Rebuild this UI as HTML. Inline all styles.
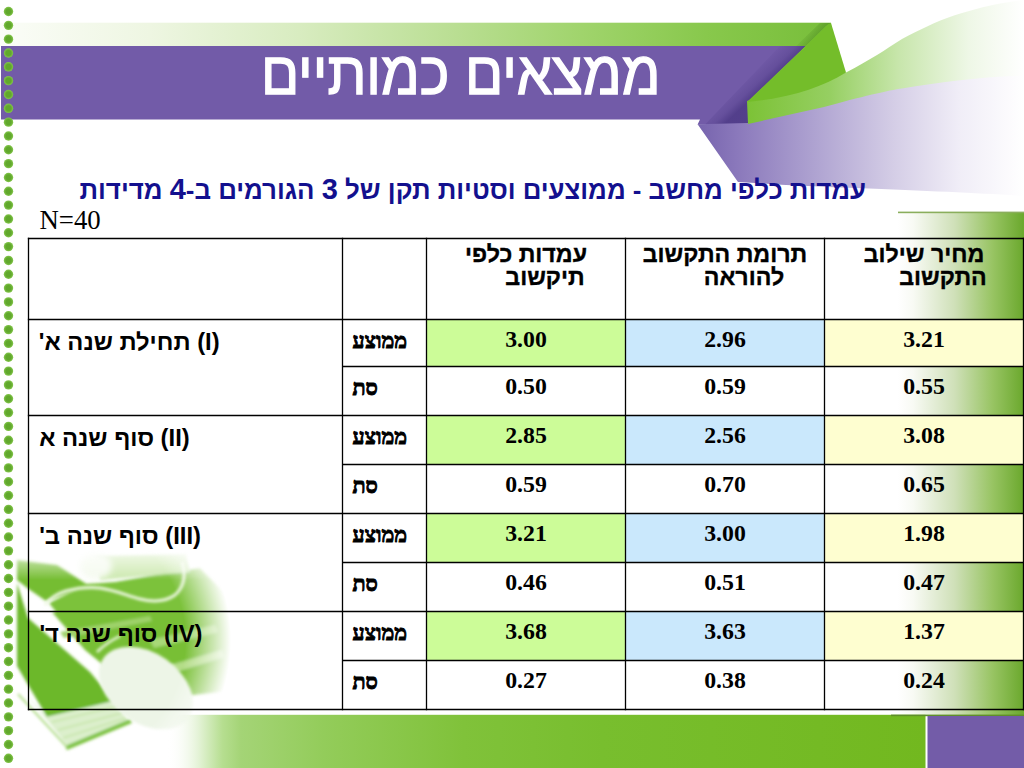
<!DOCTYPE html>
<html lang="he"><head><meta charset="utf-8">
<style>
html,body{margin:0;padding:0;}
body{width:1024px;height:768px;overflow:hidden;position:relative;background:#fff;font-family:"Liberation Sans",sans-serif;}
.abs{position:absolute;left:0;top:0;}
.t{position:absolute;white-space:nowrap;line-height:1;}
.title{color:#fff;font-size:56.4px;left:261px;top:42.5px;transform:scaleY(1.08);transform-origin:0 0;-webkit-text-stroke:1.3px #fff;}
.sub{color:#13108e;font-weight:bold;font-size:25.85px;left:79.5px;top:177.6px;}
.n40{font-family:"Liberation Serif",serif;font-size:26.8px;color:#000;left:39.5px;top:207px;}
.lab{font-weight:bold;font-size:23.8px;color:#000;margin-top:10.2px;}
.hd{font-weight:bold;font-size:23.2px;color:#000;text-align:center;-webkit-text-stroke:0.35px #000;}
.h1{top:243px;}
.h2{top:266px;}
.sm{font-family:"Liberation Serif",serif;font-weight:bold;font-size:21.5px;color:#000;left:352.5px;margin-top:11px;-webkit-text-stroke:0.9px #000;}
.num{font-family:"Liberation Serif",serif;font-weight:bold;font-size:23.8px;color:#000;text-align:center;margin-top:8.5px;}
.dg{font-size:29px;line-height:0;}

</style></head>
<body>
<svg class="abs" width="1024" height="768" viewBox="0 0 1024 768">
<defs>
  <linearGradient id="gTop" x1="0" y1="0" x2="831" y2="0" gradientUnits="userSpaceOnUse">
    <stop offset="0" stop-color="#fbfdf8"/>
    <stop offset="0.18" stop-color="#eef6e2"/>
    <stop offset="0.36" stop-color="#d8ecc0"/>
    <stop offset="0.55" stop-color="#b9de92"/>
    <stop offset="0.7" stop-color="#a0d46c"/>
    <stop offset="0.85" stop-color="#88c84c"/>
    <stop offset="1" stop-color="#78be3a"/>
  </linearGradient>
  <linearGradient id="gRight" x1="898" y1="0" x2="1024" y2="0" gradientUnits="userSpaceOnUse">
    <stop offset="0" stop-color="#ffffff"/>
    <stop offset="0.12" stop-color="#f8faf4"/>
    <stop offset="0.45" stop-color="#cfe0b8"/>
    <stop offset="0.75" stop-color="#98c463"/>
    <stop offset="1" stop-color="#6aa82c"/>
  </linearGradient>
  <linearGradient id="gBot" x1="0" y1="0" x2="927" y2="0" gradientUnits="userSpaceOnUse">
    <stop offset="0" stop-color="#ffffff" stop-opacity="0"/>
    <stop offset="0.18" stop-color="#ffffff" stop-opacity="0"/>
    <stop offset="0.215" stop-color="#e2f2d4"/>
    <stop offset="0.24" stop-color="#b6de90"/>
    <stop offset="0.26" stop-color="#a4d476"/>
    <stop offset="0.35" stop-color="#93cc5a"/>
    <stop offset="0.5" stop-color="#80c23a"/>
    <stop offset="0.65" stop-color="#78be2e"/>
    <stop offset="1" stop-color="#72b81f"/>
  </linearGradient>
  <linearGradient id="gPurpRib" x1="697" y1="0" x2="1024" y2="0" gradientUnits="userSpaceOnUse">
    <stop offset="0" stop-color="#7663ad"/>
    <stop offset="0.12" stop-color="#8a78bb"/>
    <stop offset="0.35" stop-color="#ada1d0"/>
    <stop offset="0.6" stop-color="#d4cde6"/>
    <stop offset="0.8" stop-color="#f0edf7"/>
    <stop offset="1" stop-color="#ffffff"/>
  </linearGradient>
  <linearGradient id="gGreenRib" x1="747" y1="0" x2="1024" y2="0" gradientUnits="userSpaceOnUse">
    <stop offset="0" stop-color="#7cc236"/>
    <stop offset="0.3" stop-color="#96cf62"/>
    <stop offset="0.55" stop-color="#c8e6ac"/>
    <stop offset="0.8" stop-color="#eef7e6"/>
    <stop offset="1" stop-color="#ffffff"/>
  </linearGradient>
  <linearGradient id="gShadow" x1="780" y1="72" x2="765" y2="56" gradientUnits="userSpaceOnUse">
    <stop offset="0" stop-color="#3e2c78" stop-opacity="0.6"/>
    <stop offset="0.35" stop-color="#3e2c78" stop-opacity="0.25"/>
    <stop offset="1" stop-color="#3e2c78" stop-opacity="0"/>
  </linearGradient>
  <linearGradient id="gShadowG" x1="818" y1="40" x2="806" y2="30" gradientUnits="userSpaceOnUse">
    <stop offset="0" stop-color="#3f7a18" stop-opacity="0.5"/>
    <stop offset="1" stop-color="#3f7a18" stop-opacity="0"/>
  </linearGradient>
  <radialGradient id="dot" cx="0.5" cy="0.5" r="0.5">
    <stop offset="0.55" stop-color="#61a82c"/>
    <stop offset="1" stop-color="#84c64c"/>
  </radialGradient>
  <radialGradient id="fadeImg" cx="60" cy="640" r="190" gradientUnits="userSpaceOnUse">
    <stop offset="0.66" stop-color="#fff"/>
    <stop offset="0.9" stop-color="#000"/>
  </radialGradient>
  <linearGradient id="fadeTop" x1="0" y1="542" x2="0" y2="580" gradientUnits="userSpaceOnUse">
    <stop offset="0" stop-color="#000"/>
    <stop offset="1" stop-color="#fff"/>
  </linearGradient>
  <mask id="topMask" maskUnits="userSpaceOnUse" x="0" y="500" width="400" height="268"><rect x="0" y="500" width="400" height="268" fill="url(#fadeTop)"/></mask>
  <mask id="imgMask" maskUnits="userSpaceOnUse" x="0" y="500" width="400" height="268"><rect x="0" y="500" width="400" height="268" fill="url(#fadeImg)"/></mask>
  <filter id="blur2" x="-10%" y="-10%" width="120%" height="120%"><feGaussianBlur stdDeviation="1.6"/></filter>
  <filter id="blur3" x="-20%" y="-20%" width="140%" height="140%"><feGaussianBlur stdDeviation="3"/></filter>
  <filter id="blur6" x="-20%" y="-20%" width="140%" height="140%"><feGaussianBlur stdDeviation="6"/></filter>
</defs>
<!-- top green band -->
<rect x="0" y="22.7" width="831" height="23.8" fill="url(#gTop)"/>
<path d="M806,46 L826,26 L831,23 L820,23 L796,46 Z" fill="url(#gShadowG)"/>
<!-- purple title band -->
<path d="M1,46 L806,46 L749,101 L749,124.5 L697.6,124.5 L700,119.5 L1,119.5 Z" fill="#725ba8"/>
<path d="M780,46 L806,46 L749,101 L749,124.5 L705,124.5 Z" fill="url(#gShadow)"/>
<!-- lower purple ribbon -->
<path d="M697.6,124.2 L748,123 L824,105.5 C860,95.5 890,88.5 902,87 C940,80.5 980,75.5 1024,74 L1024,196 C980,193 930,191 856,188 C800,186 770,184 738,182 Z" fill="url(#gPurpRib)"/>
<!-- light green ribbon -->
<path d="M747,101 C780,90 820,80 846,72.5 C870,60 885,50 902,39 C920,30 935,22 954,15.6 C975,9 992,4 1024,0 L1024,75.5 C980,77 940,82 902,88.5 C890,90 860,97 824,107 L748,124 Z" fill="url(#gGreenRib)"/>
<!-- bright green fold -->
<path d="M828,24.6 L831,23 L846,72.5 C820,88 790,98 747,102 Z" fill="#74bd2a"/>
<!-- right green panel -->
<rect x="898" y="212" width="126" height="503" fill="url(#gRight)"/>
<rect x="898" y="211.6" width="126" height="1.6" fill="#8aae5c"/>
<!-- bottom bar -->
<rect x="0" y="714.8" width="925.5" height="53.2" fill="url(#gBot)"/>
<rect x="891" y="714.6" width="133" height="1.6" fill="#5f8f2a"/>
<rect x="927.5" y="716" width="96.5" height="52" fill="#735ca8"/>
<!-- lower-left image -->
<g mask="url(#imgMask)"><g mask="url(#topMask)">
 <g filter="url(#blur2)">
  <path d="M17,560 L57,565 L88,585 L46,601 L28.5,589 L17,580 Z" fill="#74bd30"/>
  <path d="M84,584 L115,582 L150,576 L200,568 L222,590 L240,613 L57,613 L49,603 L77,589 Z" fill="#7cc23a"/>
  <path d="M96,556 L186,554 L190,572 L100,580 Z" fill="#cbe8ad"/>
  <path d="M52,612 L240,612 L248,650 L238,690 L130,702 L112,672 L85,650 Z" fill="#78bf36"/>
  <path d="M17,583 L28,618 L90,672 L114,701 L47,717 L17,666 Z" fill="#6cb82a"/>
  <path d="M26,694 L47,717 L114,701 L129,721 L68,746 Z" fill="#dcefcc"/>
  <path d="M52,722 L118,706 M58,730 L122,713 M63,738 L126,718" stroke="#c4e4a6" stroke-width="1.5" fill="none"/>
  <path d="M66,748 L131,721" stroke="#7cc23c" stroke-width="4.5" fill="none"/>
  <path d="M18,694 L67,747" stroke="#b0dc88" stroke-width="2" fill="none"/>
  <path d="M60,632 L150,616 L152,621 L64,638 Z" fill="#9fd26a"/>
  <path d="M150,640 L215,625 L218,632 L154,648 Z" fill="#a8d878"/>
  <path d="M160,668 L222,650 L224,657 L164,676 Z" fill="#b4dd88"/>
 </g>
 <g filter="url(#blur3)">
  <ellipse cx="96" cy="566" rx="16" ry="13" fill="#f4faee"/>
 </g>
 <g filter="url(#blur2)">
  <ellipse cx="146" cy="688" rx="52" ry="35" transform="rotate(35 146 688)" fill="#edf5e7"/>
  <path d="M45,605 C50,598 56,594 66,591 C78,588 90,587 100,588 C115,590 128,596 140,599 C152,602 165,602 175,595 C184,587 186,575 182,562" stroke="#eef8e2" stroke-width="3" fill="none"/>
  <path d="M97,652 C104,645 112,640 120,636" stroke="#eef8e2" stroke-width="2.5" fill="none"/>
 </g>
</g></g>
</svg>
<svg class="abs" width="1024" height="768" viewBox="0 0 1024 768"><g fill="url(#dot)"><circle cx="8.5" cy="11.50" r="4.7"/><circle cx="8.5" cy="25.33" r="4.7"/><circle cx="8.5" cy="39.16" r="4.7"/><circle cx="8.5" cy="52.99" r="4.7"/><circle cx="8.5" cy="66.82" r="4.7"/><circle cx="8.5" cy="80.65" r="4.7"/><circle cx="8.5" cy="94.48" r="4.7"/><circle cx="8.5" cy="108.31" r="4.7"/><circle cx="8.5" cy="122.14" r="4.7"/><circle cx="8.5" cy="135.97" r="4.7"/><circle cx="8.5" cy="149.80" r="4.7"/><circle cx="8.5" cy="163.63" r="4.7"/><circle cx="8.5" cy="177.46" r="4.7"/><circle cx="8.5" cy="191.29" r="4.7"/><circle cx="8.5" cy="205.12" r="4.7"/><circle cx="8.5" cy="218.95" r="4.7"/><circle cx="8.5" cy="232.78" r="4.7"/><circle cx="8.5" cy="246.61" r="4.7"/><circle cx="8.5" cy="260.44" r="4.7"/><circle cx="8.5" cy="274.27" r="4.7"/><circle cx="8.5" cy="288.10" r="4.7"/><circle cx="8.5" cy="301.93" r="4.7"/><circle cx="8.5" cy="315.76" r="4.7"/><circle cx="8.5" cy="329.59" r="4.7"/><circle cx="8.5" cy="343.42" r="4.7"/><circle cx="8.5" cy="357.25" r="4.7"/><circle cx="8.5" cy="371.08" r="4.7"/><circle cx="8.5" cy="384.91" r="4.7"/><circle cx="8.5" cy="398.74" r="4.7"/><circle cx="8.5" cy="412.57" r="4.7"/><circle cx="8.5" cy="426.40" r="4.7"/><circle cx="8.5" cy="440.23" r="4.7"/><circle cx="8.5" cy="454.06" r="4.7"/><circle cx="8.5" cy="467.89" r="4.7"/><circle cx="8.5" cy="481.72" r="4.7"/><circle cx="8.5" cy="495.55" r="4.7"/><circle cx="8.5" cy="509.38" r="4.7"/><circle cx="8.5" cy="523.21" r="4.7"/><circle cx="8.5" cy="537.04" r="4.7"/><circle cx="8.5" cy="550.87" r="4.7"/><circle cx="8.5" cy="564.70" r="4.7"/><circle cx="8.5" cy="578.53" r="4.7"/><circle cx="8.5" cy="592.36" r="4.7"/><circle cx="8.5" cy="606.19" r="4.7"/><circle cx="8.5" cy="620.02" r="4.7"/><circle cx="8.5" cy="633.85" r="4.7"/><circle cx="8.5" cy="647.68" r="4.7"/><circle cx="8.5" cy="661.51" r="4.7"/><circle cx="8.5" cy="675.34" r="4.7"/><circle cx="8.5" cy="689.17" r="4.7"/><circle cx="8.5" cy="703.00" r="4.7"/><circle cx="8.5" cy="716.83" r="4.7"/><circle cx="8.5" cy="730.66" r="4.7"/><circle cx="8.5" cy="744.49" r="4.7"/><circle cx="8.5" cy="758.32" r="4.7"/></g></svg>
<div class="t title" dir="rtl">ממצאים כמותיים</div>
<div class="t sub" dir="rtl">עמדות כלפי מחשב - ממוצעים וסטיות תקן של <span class="dg">3</span> הגורמים ב-<span class="dg">4</span> מדידות</div>
<div class="t n40">N=40</div>
<svg class="abs" width="1024" height="768" viewBox="0 0 1024 768"><g><rect x="426.5" y="319.5" width="199.0" height="47.0" fill="#ccfc98"/><rect x="625.5" y="319.5" width="199.0" height="47.0" fill="#cae8fc"/><rect x="824.5" y="319.5" width="199.0" height="47.0" fill="#fefed0"/><rect x="426.5" y="415.5" width="199.0" height="49.0" fill="#ccfc98"/><rect x="625.5" y="415.5" width="199.0" height="49.0" fill="#cae8fc"/><rect x="824.5" y="415.5" width="199.0" height="49.0" fill="#fefed0"/><rect x="426.5" y="513.5" width="199.0" height="49.0" fill="#ccfc98"/><rect x="625.5" y="513.5" width="199.0" height="49.0" fill="#cae8fc"/><rect x="824.5" y="513.5" width="199.0" height="49.0" fill="#fefed0"/><rect x="426.5" y="611.5" width="199.0" height="49.0" fill="#ccfc98"/><rect x="625.5" y="611.5" width="199.0" height="49.0" fill="#cae8fc"/><rect x="824.5" y="611.5" width="199.0" height="49.0" fill="#fefed0"/></g><g stroke="#000" stroke-width="1.3" fill="none"><line x1="27.85" y1="238.5" x2="1024.15" y2="238.5"/><line x1="27.85" y1="319.5" x2="1024.15" y2="319.5"/><line x1="342.50" y1="366.5" x2="1024.15" y2="366.5"/><line x1="27.85" y1="415.5" x2="1024.15" y2="415.5"/><line x1="342.50" y1="464.5" x2="1024.15" y2="464.5"/><line x1="27.85" y1="513.5" x2="1024.15" y2="513.5"/><line x1="342.50" y1="562.5" x2="1024.15" y2="562.5"/><line x1="27.85" y1="611.5" x2="1024.15" y2="611.5"/><line x1="342.50" y1="660.5" x2="1024.15" y2="660.5"/><line x1="27.85" y1="709.5" x2="1024.15" y2="709.5"/><line x1="28.5" y1="237.85" x2="28.5" y2="710.15"/><line x1="342.5" y1="237.85" x2="342.5" y2="710.15"/><line x1="426.5" y1="237.85" x2="426.5" y2="710.15"/><line x1="625.5" y1="237.85" x2="625.5" y2="710.15"/><line x1="824.5" y1="237.85" x2="824.5" y2="710.15"/><line x1="1023.5" y1="237.85" x2="1023.5" y2="710.15"/></g></svg>
<div class="t hd h1" dir="rtl" style="left:426.5px;width:199.0px;">עמדות כלפי</div>
<div class="t hd h2" dir="rtl" style="left:464.5px;width:161.0px;">תיקשוב</div>
<div class="t hd h1" dir="rtl" style="left:625.5px;width:199.0px;">תרומת התקשוב</div>
<div class="t hd h2" dir="rtl" style="left:663.5px;width:161.0px;">להוראה</div>
<div class="t hd h1" dir="rtl" style="left:824.5px;width:199.0px;">מחיר שילוב</div>
<div class="t hd h2" dir="rtl" style="left:862.5px;width:161.0px;">התקשוב</div>
<div class="t lab" dir="rtl" style="left:38.8px;top:319.5px;">(I) תחילת שנה א'</div>
<div class="t lab" dir="rtl" style="left:39.2px;top:415.5px;">(II) סוף שנה א</div>
<div class="t lab" dir="rtl" style="left:39.2px;top:513.5px;">(III) סוף שנה ב'</div>
<div class="t lab" dir="rtl" style="left:39.4px;top:611.5px;">(IV) סוף שנה ד'</div>
<div class="t sm" dir="rtl" style="top:319.5px;">ממוצע</div>
<div class="t num" style="left:426.5px;width:199.0px;top:319.5px;">3.00</div>
<div class="t num" style="left:625.5px;width:199.0px;top:319.5px;">2.96</div>
<div class="t num" style="left:824.5px;width:199.0px;top:319.5px;">3.21</div>
<div class="t sm" dir="rtl" style="top:366.5px;">סת</div>
<div class="t num" style="left:426.5px;width:199.0px;top:366.5px;">0.50</div>
<div class="t num" style="left:625.5px;width:199.0px;top:366.5px;">0.59</div>
<div class="t num" style="left:824.5px;width:199.0px;top:366.5px;">0.55</div>
<div class="t sm" dir="rtl" style="top:415.5px;">ממוצע</div>
<div class="t num" style="left:426.5px;width:199.0px;top:415.5px;">2.85</div>
<div class="t num" style="left:625.5px;width:199.0px;top:415.5px;">2.56</div>
<div class="t num" style="left:824.5px;width:199.0px;top:415.5px;">3.08</div>
<div class="t sm" dir="rtl" style="top:464.5px;">סת</div>
<div class="t num" style="left:426.5px;width:199.0px;top:464.5px;">0.59</div>
<div class="t num" style="left:625.5px;width:199.0px;top:464.5px;">0.70</div>
<div class="t num" style="left:824.5px;width:199.0px;top:464.5px;">0.65</div>
<div class="t sm" dir="rtl" style="top:513.5px;">ממוצע</div>
<div class="t num" style="left:426.5px;width:199.0px;top:513.5px;">3.21</div>
<div class="t num" style="left:625.5px;width:199.0px;top:513.5px;">3.00</div>
<div class="t num" style="left:824.5px;width:199.0px;top:513.5px;">1.98</div>
<div class="t sm" dir="rtl" style="top:562.5px;">סת</div>
<div class="t num" style="left:426.5px;width:199.0px;top:562.5px;">0.46</div>
<div class="t num" style="left:625.5px;width:199.0px;top:562.5px;">0.51</div>
<div class="t num" style="left:824.5px;width:199.0px;top:562.5px;">0.47</div>
<div class="t sm" dir="rtl" style="top:611.5px;">ממוצע</div>
<div class="t num" style="left:426.5px;width:199.0px;top:611.5px;">3.68</div>
<div class="t num" style="left:625.5px;width:199.0px;top:611.5px;">3.63</div>
<div class="t num" style="left:824.5px;width:199.0px;top:611.5px;">1.37</div>
<div class="t sm" dir="rtl" style="top:660.5px;">סת</div>
<div class="t num" style="left:426.5px;width:199.0px;top:660.5px;">0.27</div>
<div class="t num" style="left:625.5px;width:199.0px;top:660.5px;">0.38</div>
<div class="t num" style="left:824.5px;width:199.0px;top:660.5px;">0.24</div>
</body></html>
